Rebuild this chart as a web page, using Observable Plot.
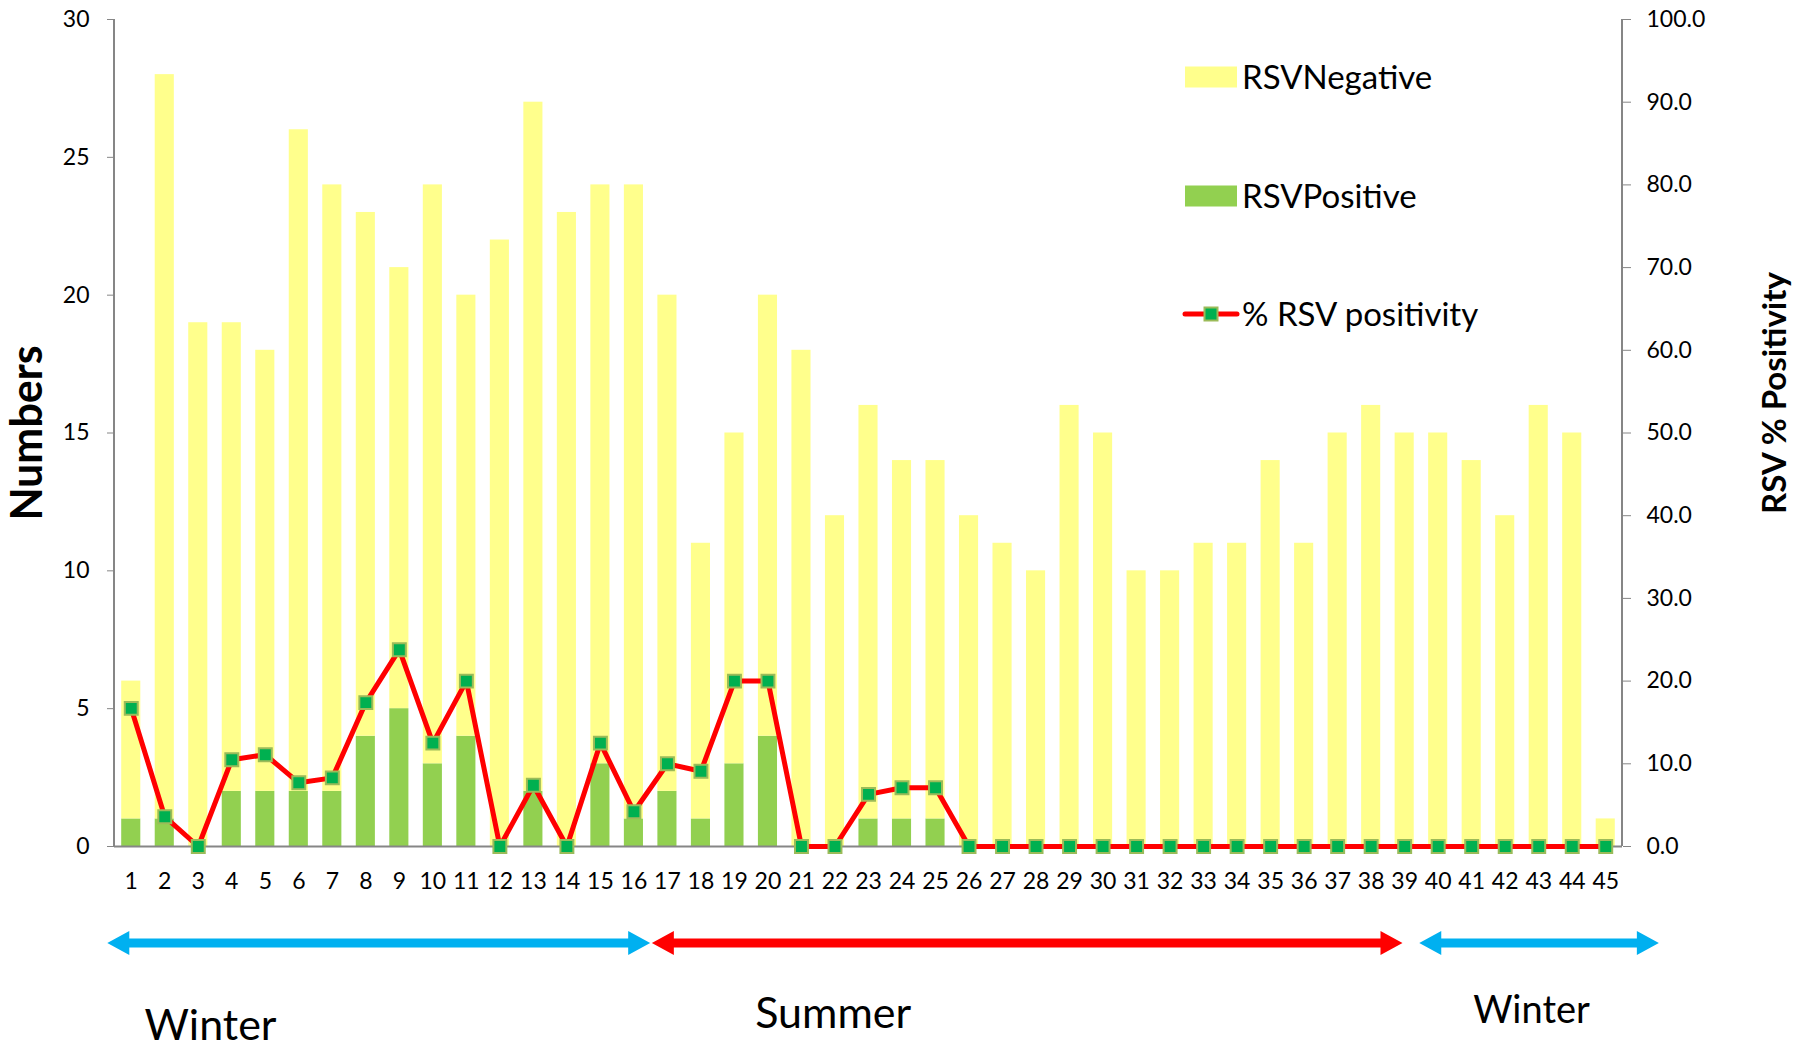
<!DOCTYPE html>
<html><head><meta charset="utf-8">
<script src="https://cdn.jsdelivr.net/npm/d3@7"></script>
<script src="https://cdn.jsdelivr.net/npm/@observablehq/plot@0.6"></script>
<style>html,body{margin:0;padding:0;background:#fff;overflow:hidden}#chart svg{display:block}</style>
</head><body><div id="chart"></div>
<script>
const categories = [1,2,3,4,5,6,7,8,9,10,11,12,13,14,15,16,17,18,19,20,21,22,23,24,25,26,27,28,29,30,31,32,33,34,35,36,37,38,39,40,41,42,43,44,45];
const rsvPositive = [1,1,0,2,2,2,2,4,5,3,4,0,2,0,3,1,2,1,3,4,0,0,1,1,1,0,0,0,0,0,0,0,0,0,0,0,0,0,0,0,0,0,0,0,0];
const rsvNegative = [5,27,19,17,16,24,22,19,16,21,16,22,25,23,21,23,18,10,12,16,18,12,15,13,13,12,11,10,16,15,10,10,11,11,14,11,15,16,15,15,14,12,16,15,1];
const pctPositivity = [16.7,3.6,0,10.5,11.1,7.7,8.3,17.4,23.8,12.5,20.0,0,7.4,0,12.5,4.2,10.0,9.1,20.0,20.0,0,0,6.3,7.1,7.1,0,0,0,0,0,0,0,0,0,0,0,0,0,0,0,0,0,0,0,0];
const leftTicks = [0,5,10,15,20,25,30];
const rightTicks = [0,10,20,30,40,50,60,70,80,90,100];
const seriesNames = ["RSVNegative","RSVPositive","% RSV positivity"];
const seasonLabels = ["Winter","Summer","Winter"];
const seasonColors = ["#00B0F0","#FF0000","#00B0F0"];
const seasonFrom = [-0.2, 16.05, 38.95];   // in category-band units
const seasonTo = [16.0, 38.45, 46.1];
const seasonLabelAt = [2.88, 21.46, 42.3];

const PCT_TO_COUNT = 30 / 100;
const C_NEG = "#FFFF8C", C_POS = "#92D050", C_LINE = "#FF0000", C_MARK = "#00B050", C_MARK_STROKE = "#9BBB59", C_AXIS = "#868686";

const barData = categories.flatMap((c, i) => [
  {cat: c, type: "RSVPositive", value: rsvPositive[i]},
  {cat: c, type: "RSVNegative", value: rsvNegative[i]}
]);
const lineData = categories.map((c, i) => ({cat: c, pct: pctPositivity[i]}));
const PIN = 0.43;

const plot = Plot.plot({
  width: 1810, height: 1050,
  marginTop: 19, marginBottom: 204, marginLeft: 114, marginRight: 188,
  style: {fontFamily: "Lato, 'Open Sans', sans-serif", fontSize: "23px", color: "black", background: "white"},
  x: {type: "band", domain: categories, paddingInner: PIN, paddingOuter: PIN / 2, round: false, label: null},
  y: {domain: [0, 30], label: null},
  color: {domain: ["RSVNegative", "RSVPositive"], range: [C_NEG, C_POS]},
  marks: [
    Plot.barY(barData, {x: "cat", y: "value", fill: "type", order: ["RSVPositive", "RSVNegative"]}),
    Plot.axisX({tickSize: 0, tickPadding: 26, fontSize: 23, fill: "black", label: null}),
    Plot.axisY({ticks: leftTicks, tickSize: 7, tickPadding: 18, stroke: C_AXIS, fill: "black", fontSize: 23, label: null}),
    Plot.axisY({anchor: "right", ticks: rightTicks.map(t => t * PCT_TO_COUNT), tickFormat: d => (d / PCT_TO_COUNT).toFixed(1),
      tickSize: 8, tickPadding: 16, stroke: C_AXIS, fill: "black", fontSize: 23, label: null}),
    Plot.ruleY([0], {stroke: C_AXIS, strokeWidth: 2}),
    Plot.line(lineData, {x: "cat", y: d => d.pct * PCT_TO_COUNT, stroke: C_LINE, strokeWidth: 5}),
    Plot.dot(lineData, {x: "cat", y: d => d.pct * PCT_TO_COUNT, symbol: "square", r: 7.3, fill: C_MARK, stroke: C_MARK_STROKE, strokeWidth: 2})
  ]
});
document.getElementById("chart").appendChild(plot);

const svg = d3.select(plot);
const xs = plot.scale("x"), ys = plot.scale("y");
const step = xs.step;
const unitToPx = u => xs.apply(categories[0]) - step * PIN / 2 + u * step;
const [xL, xR] = xs.range;
const [yB, yT] = ys.range;
const font = "Lato, 'Open Sans', sans-serif";

// axis lines
svg.append("line").attr("x1", xL).attr("x2", xL).attr("y1", yT).attr("y2", yB).attr("stroke", C_AXIS).attr("stroke-width", 2);
svg.append("line").attr("x1", xR).attr("x2", xR).attr("y1", yT).attr("y2", yB).attr("stroke", C_AXIS).attr("stroke-width", 2);

// axis titles
svg.append("text").attr("transform", `translate(42,433) rotate(-90)`).attr("text-anchor", "middle")
  .attr("font-family", font).attr("font-weight", "bold").attr("font-size", 43).attr("fill", "black").text("Numbers");
svg.append("text").attr("transform", `translate(1786,393) rotate(-90)`).attr("text-anchor", "middle")
  .attr("font-family", font).attr("font-weight", "bold").attr("font-size", 33).attr("fill", "black").text("RSV % Positivity");

// legend
const lg = svg.append("g");
const legY = [77, 196, 314];
lg.append("rect").attr("x", 1185).attr("y", legY[0] - 10.5).attr("width", 52).attr("height", 21).attr("fill", C_NEG);
lg.append("rect").attr("x", 1185).attr("y", legY[1] - 10.5).attr("width", 52).attr("height", 21).attr("fill", C_POS);
lg.append("line").attr("x1", 1185).attr("x2", 1237).attr("y1", legY[2]).attr("y2", legY[2]).attr("stroke", C_LINE).attr("stroke-width", 5).attr("stroke-linecap", "round");
lg.append("rect").attr("x", 1211 - 6.5).attr("y", legY[2] - 6.5).attr("width", 13).attr("height", 13).attr("fill", C_MARK).attr("stroke", C_MARK_STROKE).attr("stroke-width", 2);
seriesNames.forEach((n, i) => {
  lg.append("text").attr("x", 1242).attr("y", legY[i]).attr("dy", "0.36em").attr("text-anchor", "start")
    .attr("font-family", font).attr("font-size", 33).attr("fill", "black").text(n);
});

// season arrows
const ay = 943, hl = 22, hh = 12, sh = 4.5;
const labelY = [1040, 1028, 1023];
const labelSize = [43, 43, 38];
seasonLabels.forEach((lab, i) => {
  const a = unitToPx(seasonFrom[i]), b = unitToPx(seasonTo[i]);
  const pts = [[a, ay], [a + hl, ay - hh], [a + hl, ay - sh], [b - hl, ay - sh], [b - hl, ay - hh], [b, ay],
               [b - hl, ay + hh], [b - hl, ay + sh], [a + hl, ay + sh], [a + hl, ay + hh]];
  svg.append("polygon").attr("points", pts.map(p => p.join(",")).join(" ")).attr("fill", seasonColors[i]);
  svg.append("text").attr("x", unitToPx(seasonLabelAt[i])).attr("y", labelY[i]).attr("text-anchor", "middle")
    .attr("font-family", font).attr("font-size", labelSize[i]).attr("fill", "black").text(lab);
});
</script>
</body></html>
